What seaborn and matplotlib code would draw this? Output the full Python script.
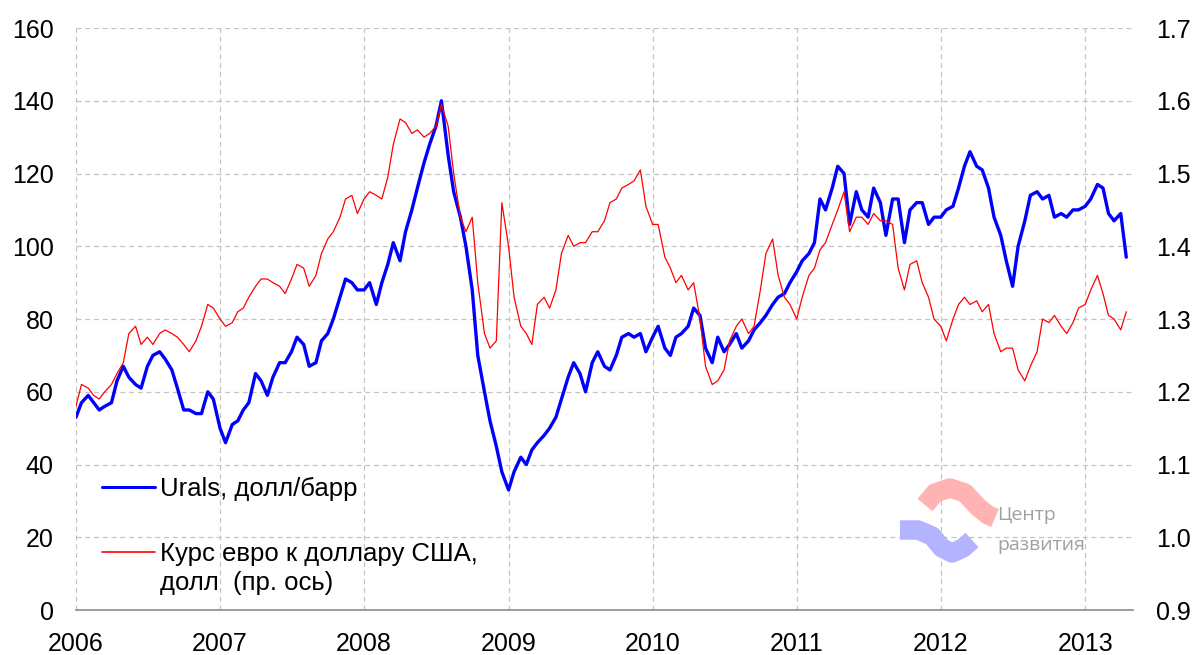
import matplotlib
matplotlib.use("Agg")
import matplotlib.pyplot as plt
import matplotlib.dates as mdates
from matplotlib.lines import Line2D
from matplotlib.ticker import MultipleLocator, FormatStrFormatter
import seaborn as sns
import pandas as pd

# Semi-monthly readings (1st and 15th of each month), Jan 2006 - Apr 2013
dates = pd.date_range("2006-01-01", "2013-04-15", freq="SMS")

# Urals, USD per barrel (left axis)
urals_2006 = [53, 57, 59, 57, 55, 56, 57, 63, 67, 64, 62, 61, 67, 70, 71, 69, 66, 61, 55, 55, 54, 54, 60, 58]
urals_2007 = [50, 46, 51, 52, 55, 57, 65, 63, 59, 64, 68, 68, 71, 75, 73, 67, 68, 74, 76, 80, 86, 91, 90, 88]
urals_2008 = [88, 90, 84, 90, 95, 101, 96, 104, 110, 116, 123, 128, 133, 140, 125, 115, 108, 100, 88, 70, 60, 52, 45, 38]
urals_2009 = [33, 38, 42, 40, 44, 46, 48, 50, 53, 58, 64, 68, 65, 60, 68, 71, 67, 66, 70, 75, 76, 75, 76, 71]
urals_2010 = [75, 78, 72, 70, 75, 76, 78, 83, 81, 72, 68, 75, 71, 73, 76, 72, 74, 77, 79, 81, 84, 86, 87, 90]
urals_2011 = [93, 96, 98, 101, 113, 110, 116, 122, 120, 106, 115, 110, 108, 116, 112, 103, 113, 113, 101, 110, 112, 112, 106, 108]
urals_2012 = [108, 110, 111, 116, 122, 126, 122, 121, 116, 108, 103, 96, 89, 100, 107, 114, 115, 113, 114, 108, 109, 108, 110, 110]
urals_2013 = [111, 113, 117, 116, 109, 107, 109, 97]

# EUR/USD rate (right axis)
eur_2006 = [1.18, 1.21, 1.205, 1.195, 1.19, 1.20, 1.21, 1.225, 1.24, 1.28, 1.29, 1.265, 1.275, 1.265, 1.28, 1.285, 1.28, 1.275, 1.265, 1.255, 1.27, 1.29, 1.32, 1.315]
eur_2007 = [1.30, 1.29, 1.295, 1.31, 1.315, 1.33, 1.345, 1.355, 1.355, 1.35, 1.345, 1.335, 1.355, 1.375, 1.37, 1.345, 1.36, 1.39, 1.41, 1.42, 1.44, 1.465, 1.47, 1.445]
eur_2008 = [1.465, 1.475, 1.47, 1.465, 1.495, 1.54, 1.575, 1.57, 1.555, 1.56, 1.55, 1.555, 1.565, 1.595, 1.565, 1.50, 1.44, 1.42, 1.44, 1.35, 1.28, 1.26, 1.27, 1.46]
eur_2009 = [1.40, 1.33, 1.29, 1.28, 1.265, 1.32, 1.33, 1.315, 1.34, 1.39, 1.415, 1.40, 1.405, 1.405, 1.42, 1.42, 1.435, 1.46, 1.465, 1.48, 1.485, 1.49, 1.505, 1.455]
eur_2010 = [1.43, 1.43, 1.385, 1.37, 1.35, 1.36, 1.34, 1.35, 1.30, 1.235, 1.21, 1.215, 1.23, 1.27, 1.29, 1.30, 1.28, 1.29, 1.34, 1.39, 1.41, 1.36, 1.33, 1.32]
eur_2011 = [1.30, 1.33, 1.36, 1.37, 1.395, 1.405, 1.43, 1.45, 1.475, 1.42, 1.44, 1.44, 1.43, 1.445, 1.435, 1.435, 1.43, 1.37, 1.34, 1.375, 1.38, 1.35, 1.33, 1.30]
eur_2012 = [1.29, 1.27, 1.30, 1.32, 1.33, 1.32, 1.325, 1.31, 1.32, 1.28, 1.255, 1.26, 1.26, 1.23, 1.215, 1.235, 1.255, 1.30, 1.295, 1.305, 1.29, 1.28, 1.295, 1.315]
eur_2013 = [1.32, 1.34, 1.36, 1.335, 1.305, 1.30, 1.285, 1.31]

urals_label = "Urals, долл/барр"
eur_label = "Курс евро к доллару США,"
eur_label_2 = "долл  (пр. ось)"

df = pd.DataFrame({
    "date": dates,
    "urals": urals_2006 + urals_2007 + urals_2008 + urals_2009 + urals_2010 + urals_2011 + urals_2012 + urals_2013,
    "eur": eur_2006 + eur_2007 + eur_2008 + eur_2009 + eur_2010 + eur_2011 + eur_2012 + eur_2013,
})

sns.set_style("white")
plt.rcParams['font.family'] = ['Liberation Sans', 'DejaVu Sans']
plt.rcParams['text.color'] = 'black'
plt.rcParams['xtick.color'] = 'black'
plt.rcParams['ytick.color'] = 'black'

fig = plt.figure(figsize=(11.98, 6.55), dpi=100)
ax = fig.add_axes([0.0634, 0.0687, 0.882, 0.8885])

sns.lineplot(data=df, x="date", y="urals", ax=ax, color="#0000FF", linewidth=2.4, label=urals_label)
ax2 = ax.twinx()
sns.lineplot(data=df, x="date", y="eur", ax=ax2, color="#FF0000", linewidth=0.9, label=eur_label)
ax.get_legend().remove()
ax2.get_legend().remove()

# axes ranges
ax.set_xlim(pd.Timestamp("2006-01-01"), pd.Timestamp("2013-05-01"))
ax.set_ylim(0, 160)
ax2.set_ylim(0.9, 1.7)
ax.yaxis.set_major_locator(MultipleLocator(20))
ax2.yaxis.set_major_locator(MultipleLocator(0.1))
ax2.yaxis.set_major_formatter(FormatStrFormatter("%.1f"))
ax.xaxis.set_major_locator(mdates.YearLocator())
ax.xaxis.set_major_formatter(mdates.DateFormatter("%Y"))
ax.xaxis.set_minor_locator(mdates.MonthLocator(bymonth=[4, 7, 10]))
ax.set_xlabel("")
ax.set_ylabel("")
ax2.set_ylabel("")

# grid and spines
ax.grid(True, which="major", color="#C4C4C4", linestyle=(0, (4, 3)), linewidth=0.9)
for s in ["left", "right", "top"]:
    ax.spines[s].set_visible(False)
    ax2.spines[s].set_visible(False)
ax2.spines["bottom"].set_visible(False)
ax.spines["bottom"].set_color("#8C8C8C")
ax.spines["bottom"].set_linewidth(1.2)

ax.tick_params(axis="x", which="major", direction="inout", length=15, width=1.0,
               color="#8C8C8C", labelsize=18, pad=8)
ax.tick_params(axis="x", which="minor", direction="in", length=6, width=1.0, color="#8C8C8C")
ax.tick_params(axis="y", length=0, labelsize=18, pad=16)
ax2.tick_params(axis="y", length=0, labelsize=18, pad=17)

# legend (second line of the red label sits under the first one)
handles = [Line2D([], [], color="#0000FF", linewidth=2.2), Line2D([], [], color="#FF0000", linewidth=1.2)]
leg = ax2.legend(handles, [urals_label, eur_label], loc="upper left", bbox_to_anchor=(0.0245, 0.229),
                 frameon=False, fontsize=18.5, handlelength=2.05, handletextpad=0.2,
                 labelspacing=1.6, borderpad=0, borderaxespad=0)
ax2.text(0.0795, 0.046, eur_label_2, transform=ax2.transAxes, fontsize=18.5, va="center", ha="left")

# "Центр развития" watermark
def px(x, y):
    return x / 1198, 1 - y / 655

pink = [px(x, y) for x, y in [(925, 505), (935, 493), (950, 488), (965, 493), (978, 507), (988, 515), (995, 518)]]
blue = [px(x, y) for x, y in [(900, 530), (918, 530), (932, 536), (942, 548), (952, 553), (963, 548), (972, 540)]]
fig.add_artist(Line2D([p[0] for p in pink], [p[1] for p in pink], transform=fig.transFigure,
                      color="#FFB3B3", linewidth=14, solid_capstyle="butt", solid_joinstyle="round"))
fig.add_artist(Line2D([p[0] for p in blue], [p[1] for p in blue], transform=fig.transFigure,
                      color="#B3B3FF", linewidth=14, solid_capstyle="butt", solid_joinstyle="round"))
fig.text(997 / 1198, 1 - 515 / 655, "Центр", color="#A0A0A0", fontsize=14, va="center", family="Open Sans")
fig.text(997 / 1198, 1 - 545 / 655, "развития", color="#A0A0A0", fontsize=14, va="center", family="Open Sans")

fig.savefig("out.png", dpi=100)
